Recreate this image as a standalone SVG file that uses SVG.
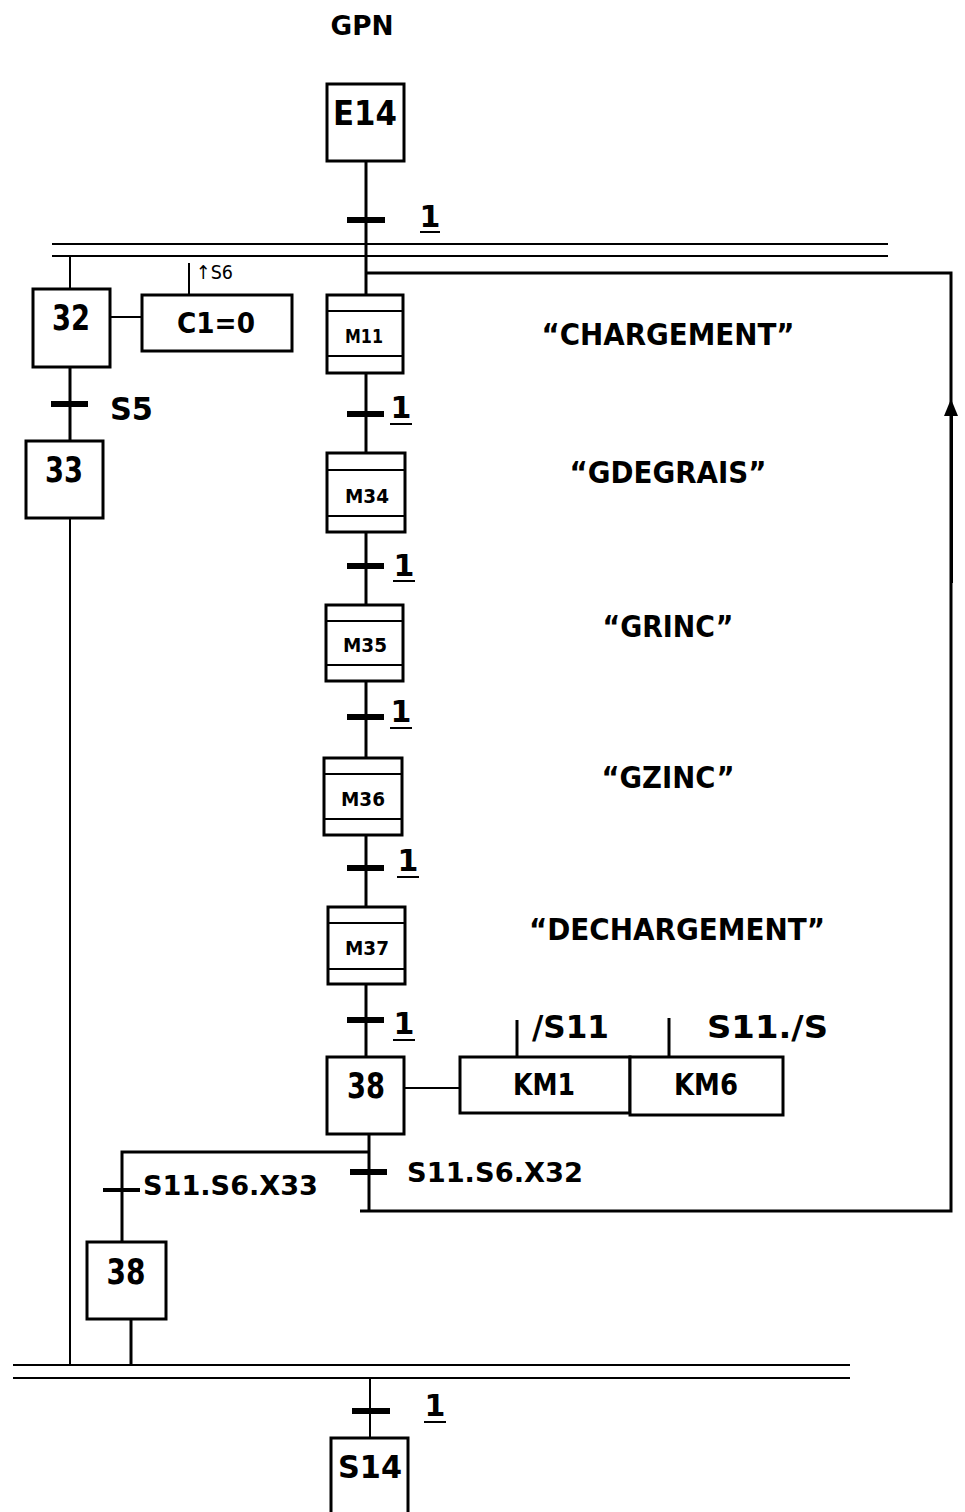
<svg xmlns="http://www.w3.org/2000/svg" width="965" height="1512" viewBox="0 0 965 1512">
<style>
.bx{fill:#fff;stroke:#000;stroke-width:3}
.ln{stroke:#000;stroke-width:3;fill:none}
.tn{stroke:#000;stroke-width:2;fill:none}
.bar{fill:#000}
text{font-family:"DejaVu Sans","Liberation Sans",sans-serif;font-weight:bold;fill:#000}
.c{text-anchor:middle}
.n{font-weight:normal}
</style>
<rect width="965" height="1512" fill="#fff"/>
<text x="362" y="35" class="c" font-size="27" textLength="63" lengthAdjust="spacingAndGlyphs">GPN</text>

<g id="connectors">
<line class="ln" x1="366" y1="161" x2="366" y2="296"/>
<line class="tn" x1="52" y1="244" x2="888" y2="244"/>
<line class="tn" x1="52" y1="256" x2="888" y2="256"/>
<polyline class="ln" points="366,273 951,273 951,1211 360,1211"/>
<polygon points="951,399 944,416 958,416" fill="#000"/>
<line class="ln" x1="951.5" y1="416" x2="951.5" y2="583" stroke-width="4"/>
<line class="tn" x1="70" y1="256" x2="70" y2="289"/>
<line class="ln" x1="70" y1="367" x2="70" y2="441"/>
<line class="tn" x1="70" y1="518" x2="70" y2="1365"/>
<line class="tn" x1="110" y1="317" x2="142" y2="317"/>
<line class="tn" x1="189" y1="263" x2="189" y2="295"/>
<line class="ln" x1="366" y1="373" x2="366" y2="453"/>
<line class="ln" x1="366" y1="532" x2="366" y2="605"/>
<line class="ln" x1="366" y1="681" x2="366" y2="758"/>
<line class="ln" x1="366" y1="835" x2="366" y2="907"/>
<line class="ln" x1="366" y1="984" x2="366" y2="1057"/>
<line class="ln" x1="369" y1="1134" x2="369" y2="1211"/>
<line class="tn" x1="404" y1="1088" x2="460" y2="1088"/>
<line class="ln" x1="517" y1="1020" x2="517" y2="1057"/>
<line class="ln" x1="669" y1="1018" x2="669" y2="1057"/>
<polyline class="ln" points="369,1152 122,1152 122,1242"/>
<line class="ln" x1="131" y1="1319" x2="131" y2="1365"/>
<line class="tn" x1="13" y1="1365" x2="850" y2="1365"/>
<line class="tn" x1="13" y1="1378" x2="850" y2="1378"/>
<line class="tn" x1="370" y1="1378" x2="370" y2="1438"/>
<rect class="bar" x="347" y="217" width="38" height="6"/>
<rect class="bar" x="347" y="411" width="37" height="6"/>
<rect class="bar" x="347" y="563" width="37" height="6"/>
<rect class="bar" x="347" y="714" width="37" height="6"/>
<rect class="bar" x="347" y="865" width="37" height="6"/>
<rect class="bar" x="347" y="1017" width="37" height="6"/>
<rect class="bar" x="51" y="401" width="37" height="6"/>
<rect class="bar" x="350" y="1169" width="37" height="6"/>
<rect class="bar" x="103" y="1188" width="37" height="4"/>
<rect class="bar" x="352" y="1408" width="38" height="6"/>
<text x="430" y="227" class="c" font-size="30">1</text>
<line class="tn" x1="420" y1="232" x2="440" y2="232"/>
<text x="401" y="418" class="c" font-size="30">1</text>
<line class="tn" x1="390" y1="424" x2="412" y2="424"/>
<text x="404" y="576" class="c" font-size="30">1</text>
<line class="tn" x1="393" y1="581" x2="415" y2="581"/>
<text x="401" y="722" class="c" font-size="30">1</text>
<line class="tn" x1="390" y1="728" x2="412" y2="728"/>
<text x="408" y="871" class="c" font-size="30">1</text>
<line class="tn" x1="397" y1="877" x2="419" y2="877"/>
<text x="404" y="1034" class="c" font-size="30">1</text>
<line class="tn" x1="393" y1="1040" x2="415" y2="1040"/>
<text x="435" y="1416" class="c" font-size="30">1</text>
<line class="tn" x1="424" y1="1422" x2="446" y2="1422"/>
<text x="110" y="420" font-size="32" textLength="43" lengthAdjust="spacingAndGlyphs">S5</text>
<text x="407" y="1182" font-size="27" textLength="176" lengthAdjust="spacingAndGlyphs">S11.S6.X32</text>
<text x="143" y="1195" font-size="27" textLength="175" lengthAdjust="spacingAndGlyphs">S11.S6.X33</text>
<text x="196" y="279" class="n" font-size="19" textLength="37" lengthAdjust="spacingAndGlyphs">↑S6</text>
<text x="532" y="1038" font-size="32" textLength="77" lengthAdjust="spacingAndGlyphs">/S11</text>
<text x="707" y="1038" font-size="32" textLength="121" lengthAdjust="spacingAndGlyphs">S11./S</text>
</g>

<g id="E14"><rect class="bx" x="327" y="84" width="77" height="77"/><text x="365" y="125" class="c" font-size="33" textLength="64" lengthAdjust="spacingAndGlyphs">E14</text></g>
<g id="s32"><rect class="bx" x="33" y="289" width="77" height="78"/><text x="71" y="330" class="c" font-size="36" textLength="38" lengthAdjust="spacingAndGlyphs">32</text></g>
<g id="C1"><rect class="bx" x="142" y="295" width="150" height="56"/><text x="216" y="333" class="c" font-size="29" textLength="78" lengthAdjust="spacingAndGlyphs">C1=0</text></g>
<g id="s33"><rect class="bx" x="26" y="441" width="77" height="77"/><text x="64" y="482" class="c" font-size="36" textLength="38" lengthAdjust="spacingAndGlyphs">33</text></g>
<g id="M11"><rect class="bx" x="327" y="295" width="76" height="78"/><line class="tn" x1="327" y1="311" x2="403" y2="311"/><line class="tn" x1="327" y1="356" x2="403" y2="356"/><text x="364" y="343" class="c" font-size="19" textLength="38" lengthAdjust="spacingAndGlyphs">M11</text></g>
<g id="M34"><rect class="bx" x="327" y="453" width="78" height="79"/><line class="tn" x1="327" y1="470" x2="405" y2="470"/><line class="tn" x1="327" y1="516" x2="405" y2="516"/><text x="367" y="503" class="c" font-size="19" textLength="44" lengthAdjust="spacingAndGlyphs">M34</text></g>
<g id="M35"><rect class="bx" x="326" y="605" width="77" height="76"/><line class="tn" x1="326" y1="621" x2="403" y2="621"/><line class="tn" x1="326" y1="665" x2="403" y2="665"/><text x="365" y="652" class="c" font-size="19" textLength="44" lengthAdjust="spacingAndGlyphs">M35</text></g>
<g id="M36"><rect class="bx" x="324" y="758" width="78" height="77"/><line class="tn" x1="324" y1="774" x2="402" y2="774"/><line class="tn" x1="324" y1="819" x2="402" y2="819"/><text x="363" y="806" class="c" font-size="19" textLength="44" lengthAdjust="spacingAndGlyphs">M36</text></g>
<g id="M37"><rect class="bx" x="328" y="907" width="77" height="77"/><line class="tn" x1="328" y1="923" x2="405" y2="923"/><line class="tn" x1="328" y1="969" x2="405" y2="969"/><text x="367" y="955" class="c" font-size="19" textLength="44" lengthAdjust="spacingAndGlyphs">M37</text></g>
<g id="s38"><rect class="bx" x="327" y="1057" width="77" height="77"/><text x="366" y="1098" class="c" font-size="36" textLength="38" lengthAdjust="spacingAndGlyphs">38</text></g>
<g id="KM1"><rect class="bx" x="460" y="1057" width="170" height="56"/><text x="544" y="1095" class="c" font-size="30" textLength="62" lengthAdjust="spacingAndGlyphs">KM1</text></g>
<g id="KM6"><rect class="bx" x="630" y="1057" width="153" height="58"/><text x="706" y="1095" class="c" font-size="30" textLength="64" lengthAdjust="spacingAndGlyphs">KM6</text></g>
<g id="s38b"><rect class="bx" x="87" y="1242" width="79" height="77"/><text x="126" y="1284" class="c" font-size="36" textLength="39" lengthAdjust="spacingAndGlyphs">38</text></g>
<g id="S14"><rect class="bx" x="331" y="1438" width="77" height="80"/><text x="370" y="1478" class="c" font-size="32" textLength="64" lengthAdjust="spacingAndGlyphs">S14</text></g>

<g id="labels">
<text x="668" y="345" class="c" font-size="30" textLength="253" lengthAdjust="spacingAndGlyphs">“CHARGEMENT”</text>
<text x="668" y="483" class="c" font-size="30" textLength="197" lengthAdjust="spacingAndGlyphs">“GDEGRAIS”</text>
<text x="668" y="637" class="c" font-size="30" textLength="131" lengthAdjust="spacingAndGlyphs">“GRINC”</text>
<text x="668" y="788" class="c" font-size="30" textLength="133" lengthAdjust="spacingAndGlyphs">“GZINC”</text>
<text x="677" y="940" class="c" font-size="30" textLength="296" lengthAdjust="spacingAndGlyphs">“DECHARGEMENT”</text>
</g>
</svg>
